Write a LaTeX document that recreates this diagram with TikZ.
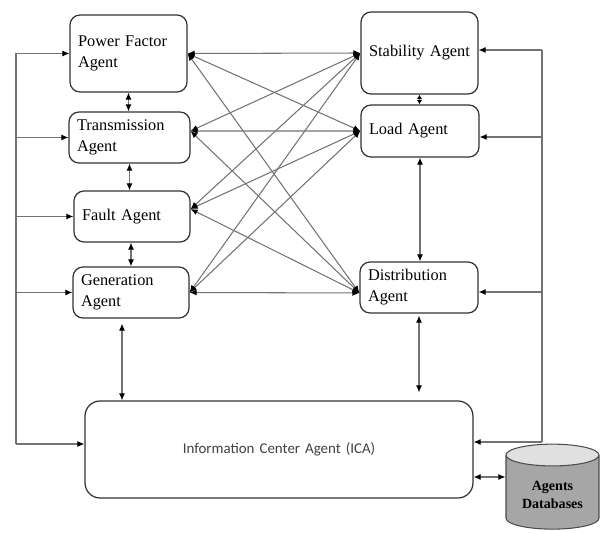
\documentclass[tikz,border=0pt]{standalone}
\usepackage{fontspec}
\setmainfont{Liberation Serif}
\newfontfamily\icafont{Carlito}
\usetikzlibrary{arrows.meta,shapes.geometric}

\begin{document}
\begin{tikzpicture}[
        x=0.02cm, y=-0.02cm,
        >={Latex[length=4pt,width=3.4pt,color=black]},
        % boxes of the agents
        agent/.style={
            draw=black!80,
            line width=0.7pt,
            rounded corners=0.2cm,
            align=left,
            inner xsep=0.16cm,
            inner ysep=0pt,
            font=\fontsize{9.3}{12}\selectfont
        },
        link/.style={
            draw=black!55,
            line width=0.6pt
        },
        dbase/.style={
            cylinder, shape border rotate=90, aspect=0.3,
            draw=black!70, line width=0.6pt,
            cylinder uses custom fill,
            cylinder body fill=black!35,
            cylinder end fill=black!12,
            align=center,
            font=\fontsize{8}{10}\selectfont\bfseries
        }
    ]
    \useasboundingbox (0,0) rectangle (600,533);

    % --- left column ---
    \node[agent, text width=2.02cm, minimum height=1.54cm] (pf) at (128.5,53.5) {Power Factor\\Agent};
    \node[agent, text width=2.10cm, minimum height=1.02cm] (tr) at (129.5,137.5) {Transmission\\Agent};
    \node[agent, text width=2.00cm, minimum height=1.02cm] (fa) at (132,216.5) {Fault Agent};
    \node[agent, text width=2.00cm, minimum height=1.02cm] (ge) at (131,292.5) {Generation\\Agent};

    % --- right column ---
    \node[agent, align=center, text width=2.02cm, minimum height=1.64cm] (st) at (419.5,53) {Stability Agent};
    \node[agent, text width=2.04cm, minimum height=1.04cm] (lo) at (420,131) {Load Agent};
    \node[agent, text width=2.04cm, minimum height=1.02cm] (di) at (419,287.5) {Distribution\\Agent};

    % --- bottom ---
    \node[agent, align=center, rounded corners=0.3cm, text width=7.44cm, minimum height=1.94cm,
          font=\icafont\fontsize{8.5}{10}\selectfont, text=black!75] (ica) at (279,449.5) {Information Center Agent (ICA)};
    \node[dbase, minimum width=1.86cm, minimum height=1.7cm] (db) at (552.5,495) {Agents\\Databases};

    % end points of the crossing links
    \coordinate (pfR) at (pf.east);
    \coordinate (trR) at ([yshift=0.13cm]tr.east);
    \coordinate (faR) at ([yshift=0.15cm]fa.east);
    \coordinate (geR) at (ge.east);
    \coordinate (stL) at (st.west);
    \coordinate (loL) at (lo.west);
    \coordinate (diL) at ([yshift=-0.11cm]di.west);

    \foreach \a in {pfR,trR,faR,geR}
        \foreach \b in {stL,loL,diL}
            \draw[link,<->] (\a) -- (\b);

    % vertical links
    \draw[link,<->] (pf.south) -- (pf.south |- tr.north);
    \draw[link,<->] (tr.south) -- (tr.south |- fa.north);
    \draw[link,<->] (ge.north |- fa.south) -- (ge.north);
    \coordinate (gi) at ([xshift=-0.18cm,yshift=-0.1cm]ge.south);
    \draw[link,<->] (gi) -- (gi |- ica.north);

    \draw[link,{Latex[length=2.5pt,width=3pt,color=black]}-{Latex[length=2.5pt,width=3pt,color=black]}] (st.south) -- (st.south |- lo.north);
    \draw[link,<->] (lo.south) -- (lo.south |- di.north);
    \coordinate (dd) at ([yshift=-0.04cm]di.south);
    \coordinate (ddi) at ([yshift=0.16cm]ica.north);
    \draw[link,<->] (dd) -- (dd |- ddi);

    % left bus
    \coordinate (lbus) at (16,0);
    \coordinate (icaL) at ([yshift=0.11cm]ica.west);
    \draw[link] (lbus |- pf.west) -- (lbus |- icaL);
    \foreach \n in {pf.west,tr.west,fa.west,ge.west,icaL}
        \draw[link,->] (lbus |- \n) -- (\n);

    % right bus
    \coordinate (rbus) at (542,0);
    \coordinate (stR) at ([yshift=0.06cm]st.east);
    \coordinate (loR) at ([yshift=-0.12cm]lo.east);
    \coordinate (diR) at ([yshift=-0.09cm]di.east);
    \coordinate (icaR) at ([yshift=0.15cm]ica.east);
    \draw[link] (rbus |- stR) -- (rbus |- icaR);
    \foreach \n in {stR,loR,diR,icaR}
        \draw[link,->] (rbus |- \n) -- (\n);

    % database
    \coordinate (dbin) at ([yshift=0.36cm]db.west);
    \draw[link,<->] (ica.east |- dbin) -- (dbin);

\end{tikzpicture}
\end{document}
